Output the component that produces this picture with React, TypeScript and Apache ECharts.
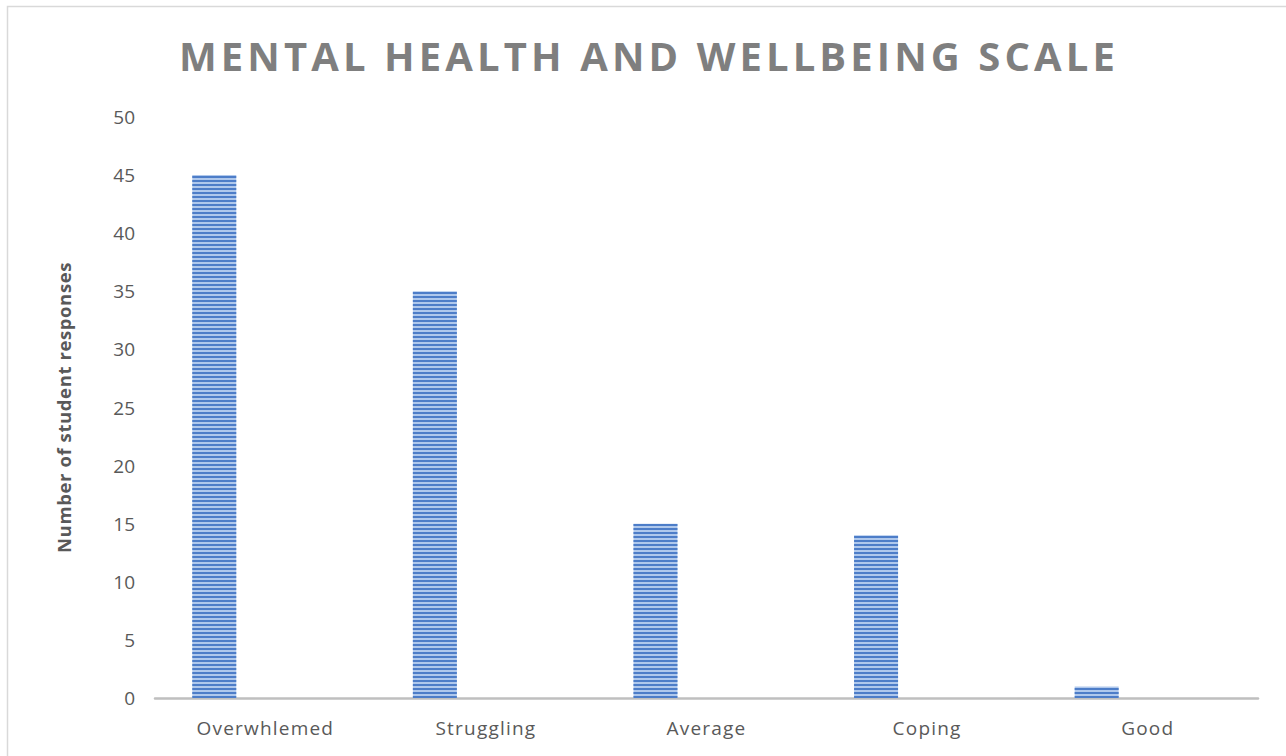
import React, { useEffect, useRef } from "react";
import * as echarts from "echarts";

const categories = ["Overwhlemed", "Struggling", "Average", "Coping", "Good"];
const responses = [45, 35, 15, 14, 1];
const emptySeries = ["-", "-", "-", "-", "-"];
const yTicks = { min: 0, max: 50, interval: 5 };
const titleText = "MENTAL HEALTH AND WELLBEING SCALE";
const yAxisName = "Number of student responses";

export default function App() {
  const ref = useRef<HTMLDivElement>(null);
  useEffect(() => {
    if (!ref.current) return;
    const chart = echarts.init(ref.current, null, { renderer: "svg" });
    const textColor = "#595959";
    chart.setOption({
      animation: false,
      backgroundColor: "#ffffff",
      title: {
        text: titleText,
        left: 644,
        top: 30,
        textAlign: "center",
        textStyle: {
          fontFamily: "Open Sans",
          fontWeight: "bold",
          fontSize: 40,
          color: "#7f7f7f",
        },
      },
      graphic: [
        {
          type: "rect",
          shape: { x: 7.5, y: 6.5, width: 1300, height: 800 },
          style: { fill: "none", stroke: "#d9d9d9", lineWidth: 1.5 },
          silent: true,
        },
      ],
      grid: { left: 155, right: 28, top: 117, bottom: 58 },
      xAxis: {
        type: "category",
        data: categories,
        axisLine: { lineStyle: { color: "#bfbfbf", width: 2.5 } },
        axisTick: { show: false },
        axisLabel: {
          color: textColor,
          fontFamily: "Open Sans",
          fontSize: 19,
          margin: 20,
        },
      },
      yAxis: {
        type: "value",
        min: yTicks.min,
        max: yTicks.max,
        interval: yTicks.interval,
        name: yAxisName,
        nameLocation: "middle",
        nameGap: 82,
        nameTextStyle: {
          color: textColor,
          fontFamily: "Open Sans",
          fontWeight: "bold",
          fontSize: 18.5,
        },
        axisLine: { show: false },
        axisTick: { show: false },
        splitLine: { show: false },
        axisLabel: {
          color: textColor,
          fontFamily: "Open Sans",
          fontSize: 19,
          margin: 20,
        },
      },
      series: [
        {
          type: "bar",
          data: responses,
          barWidth: 44,
          barGap: "132%",
          itemStyle: {
            color: "#afc8ec",
            decal: {
              symbol: "rect",
              symbolSize: 1,
              dashArrayX: [1, 0],
              dashArrayY: [2, 2],
              rotation: 0,
              color: "#4d7dc8",
            },
          },
        },
        {
          type: "bar",
          data: emptySeries,
          barWidth: 44,
          itemStyle: { color: "#ed7d31" },
        },
      ],
    });
    const spacing: Record<string, string> = {
      [titleText]: "4.1px",
      [yAxisName]: "0.6px",
    };
    categories.forEach((c) => (spacing[c] = "1.2px"));
    ref.current.querySelectorAll("text").forEach((t) => {
      const s = spacing[t.textContent || ""];
      if (s) (t as SVGTextElement).style.letterSpacing = s;
    });
    return () => chart.dispose();
  }, []);
  return (
    <div
      ref={ref}
      style={{ position: "fixed", left: 0, top: 0, width: 1286, height: 756 }}
    />
  );
}
